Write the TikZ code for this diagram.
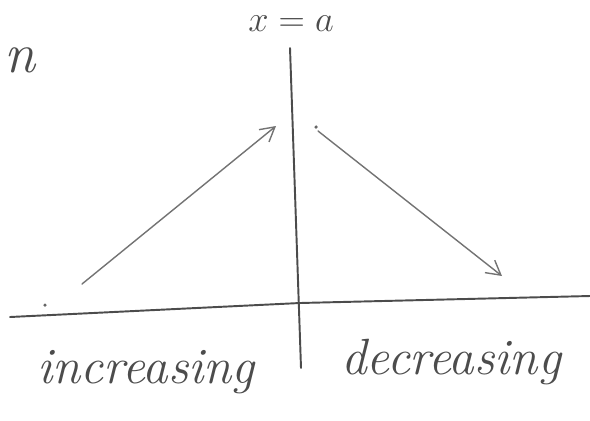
\documentclass[tikz,border=0pt]{standalone}
\usetikzlibrary{arrows.meta}
\begin{document}
\begin{tikzpicture}[x=0.02cm,y=-0.02cm,
  pen/.style={draw=black!70,line width=1.1pt,line cap=round},
  arr/.style={draw=black!55,line width=0.8pt,line cap=round,-{Straight Barb[length=8pt,width=9pt]}},
  hand/.style={text=black!70,font=\itshape\fontsize{29}{33}\selectfont}]
\useasboundingbox (0,0) rectangle (590,420);
% axes
\coordinate (vt) at (290,48);
\coordinate (vb) at (301,368);
\coordinate (hl) at (10,317);
\coordinate (hr) at (590,296);
\draw[pen] (vt) -- (vb);
\draw[pen] (hl) -- (300,303) -- (hr);
% arrows
\coordinate (a1) at (82,284);
\coordinate (a2) at (276,126);
\coordinate (b1) at (318,131);
\coordinate (b2) at (502,276);
\draw[arr] (a1) -- (a2);
\draw[arr] (b1) -- (b2);
\fill[black!60] (45,305) circle (1pt);
\fill[black!60] (316,127) circle (1pt);
% labels
\node[hand,font=\fontsize{22}{26}\selectfont] (xa) at (291,24) {$x=a$};
\node[hand,font=\itshape\fontsize{32}{36}\selectfont] (n) at (20,60) {n};
\node[hand] (inc) at (146,372) {increasing};
\node[hand] (dec) at (451,362) {decreasing};
\end{tikzpicture}
\end{document}
